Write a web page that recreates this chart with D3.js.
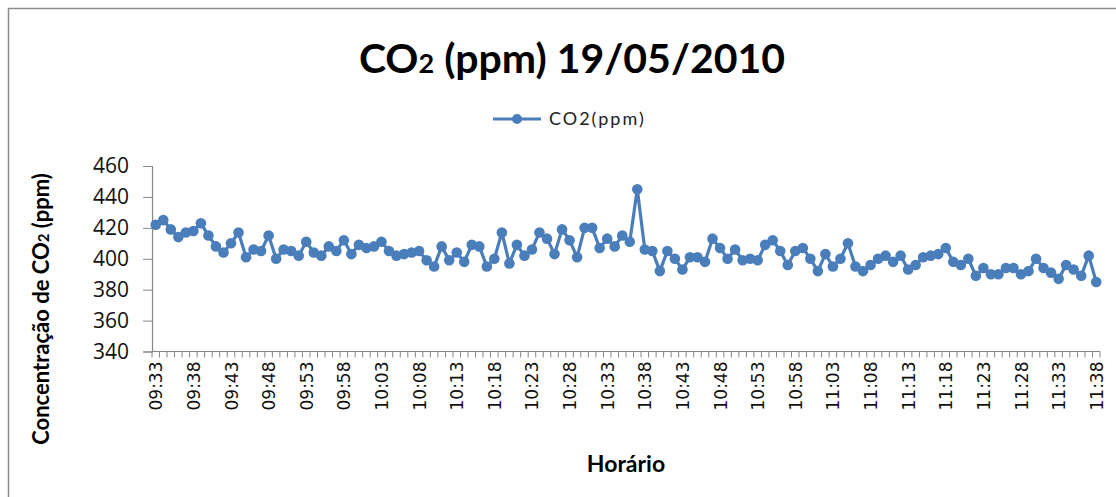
<!DOCTYPE html>
<html lang="pt">
<head>
<meta charset="UTF-8">
<title>CO2 (ppm) 19/05/2010</title>
<script src="https://d3js.org/d3.v7.min.js"></script>
<style>
  body { margin: 0; padding: 0; background: #fff; }
  svg { display: block; font-family: Lato, "Open Sans", sans-serif; }
</style>
</head>
<body>
<svg id="chart" width="1116" height="497"></svg>
<script>
// minute readings from 09:33 to 11:38
const startTime = "09:33";
const co2 = [
  422, 425, 419, 414, 417, 418, 423, 415, 408, 404,
  410, 417, 401, 406, 405, 415, 400, 406, 405, 402,
  411, 404, 402, 408, 405, 412, 403, 409, 407, 408,
  411, 405, 402, 403, 404, 405, 399, 395, 408, 399,
  404, 398, 409, 408, 395, 400, 417, 397, 409, 402,
  406, 417, 413, 403, 419, 412, 401, 420, 420, 407,
  413, 408, 415, 411, 445, 406, 405, 392, 405, 400,
  393, 401, 401, 398, 413, 407, 400, 406, 399, 400,
  399, 409, 412, 405, 396, 405, 407, 400, 392, 403,
  395, 400, 410, 395, 392, 396, 400, 402, 398, 402,
  393, 396, 401, 402, 403, 407, 398, 396, 400, 389,
  394, 390, 390, 394, 394, 390, 392, 400, 394, 391,
  387, 396, 393, 389, 402, 385
];
const yTicks = [340, 360, 380, 400, 420, 440, 460];
const labelEvery = 5;

const parse = d3.timeParse("%H:%M");
const fmt = d3.timeFormat("%H:%M");
const t0 = parse(startTime);
const times = co2.map((d, i) => fmt(d3.timeMinute.offset(t0, i)));
const data = co2.map((v, i) => ({ t: times[i], v: v }));

const svg = d3.select("#chart");
const plotL = 152, plotR = 1100, plotT = 166, plotB = 351.5;
const blue = "#4a7ebb";
const axisGray = "#868686";

// chart border
svg.append("rect")
  .attr("x", 8.5).attr("y", 8.5)
  .attr("width", 1120).attr("height", 500)
  .attr("fill", "none").attr("stroke", "#8c8c8c").attr("stroke-width", 1.5);

const x = d3.scaleBand().domain(times).range([plotL, plotR]);
const y = d3.scaleLinear().domain([340, 460]).range([plotB, plotT]);

// title
const title = svg.append("text")
  .attr("x", 572).attr("y", 73)
  .attr("text-anchor", "middle")
  .style("font-size", "41px").style("font-weight", "bold");
title.append("tspan").text("CO");
title.append("tspan").style("font-size", "27px").text("2");
title.append("tspan").text(" (ppm) 19/05/2010");

// legend
const lg = svg.append("g");
lg.append("line").attr("x1", 493).attr("x2", 541).attr("y1", 119).attr("y2", 119)
  .attr("stroke", blue).attr("stroke-width", 3);
lg.append("circle").attr("cx", 517).attr("cy", 119).attr("r", 5).attr("fill", blue);
lg.append("text").attr("x", 549).attr("y", 125)
  .style("font-size", "18px").style("letter-spacing", "2px")
  .attr("fill", "#222").text("CO2(ppm)");

// y axis
const yAxis = svg.append("g")
  .attr("transform", "translate(" + plotL + ",0)")
  .call(d3.axisLeft(y).tickValues(yTicks).tickSize(9).tickPadding(14));
yAxis.select(".domain").attr("stroke", axisGray).attr("stroke-width", 1.2);
yAxis.selectAll(".tick line").attr("stroke", axisGray);
yAxis.selectAll(".tick text").style("font-size", "21px").attr("fill", "#111")
  .style("font-family", "'Open Sans', sans-serif");

// x axis: ticks between categories, labels every 5 minutes
const xg = svg.append("g");
xg.append("line").attr("x1", plotL).attr("x2", plotR).attr("y1", plotB).attr("y2", plotB)
  .attr("stroke", axisGray).attr("stroke-width", 1.2);
const edges = times.map(t => x(t)).concat([plotR]);
xg.selectAll(".xt").data(edges).enter().append("line")
  .attr("x1", d => d).attr("x2", d => d)
  .attr("y1", plotB).attr("y2", plotB + 6)
  .attr("stroke", axisGray);
xg.selectAll(".xl").data(times.filter((t, i) => i % labelEvery === 0)).enter().append("text")
  .attr("transform", d => "translate(" + (x(d) + x.bandwidth() / 2 + 6.5) + "," + (plotB + 10) + ") rotate(-90)")
  .attr("text-anchor", "end")
  .style("font-size", "17px").style("font-family", "'DejaVu Sans', sans-serif")
  .attr("fill", "#111")
  .text(d => d);

// axis titles
svg.append("text")
  .attr("x", 626).attr("y", 472).attr("text-anchor", "middle")
  .style("font-size", "23px").style("font-weight", "bold").text("Horário");

const yt = svg.append("text")
  .attr("transform", "translate(49,309) rotate(-90)")
  .attr("text-anchor", "middle")
  .style("font-size", "22px").style("font-weight", "bold");
yt.append("tspan").text("Concentração de CO");
yt.append("tspan").style("font-size", "15px").text("2");
yt.append("tspan").text(" (ppm)");

// series
const cx = d => x(d.t) + x.bandwidth() / 2;
svg.append("path").datum(data)
  .attr("fill", "none").attr("stroke", blue).attr("stroke-width", 3.2)
  .attr("stroke-linejoin", "round")
  .attr("d", d3.line().x(cx).y(d => y(d.v)));
svg.selectAll(".dot").data(data).enter().append("circle")
  .attr("cx", cx).attr("cy", d => y(d.v)).attr("r", 5.3)
  .attr("fill", blue);
</script>
</body>
</html>
